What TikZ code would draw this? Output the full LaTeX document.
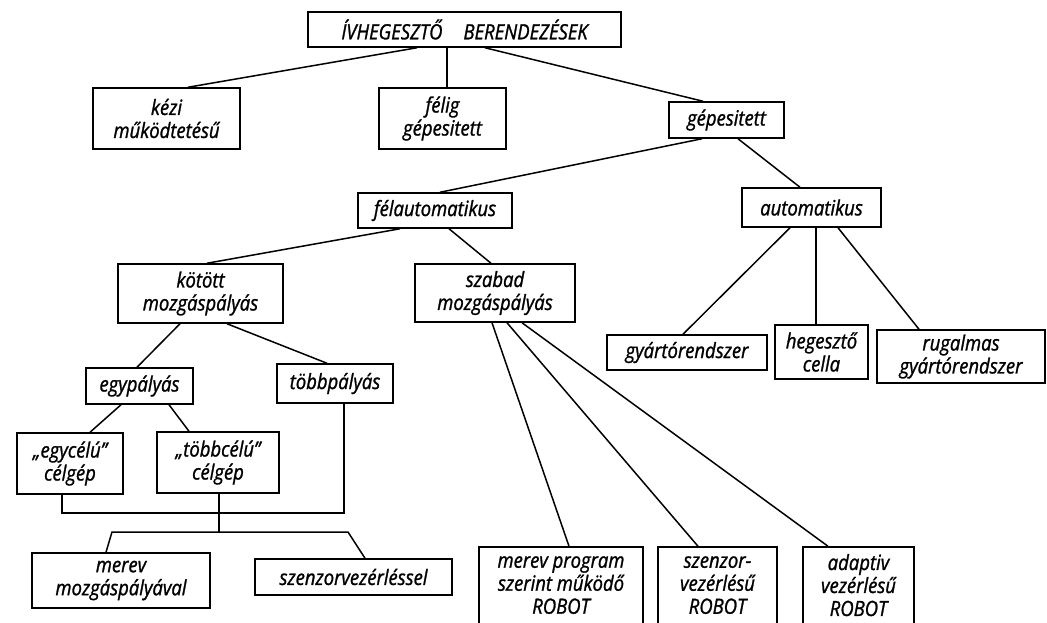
\documentclass[tikz,border=0pt]{standalone}
\usepackage{fontspec}
\newfontfamily\lettering{Open Sans}[FakeStretch=0.88, FakeBold=1.2]
\begin{document}
\begin{tikzpicture}[x=1pt,y=-1pt,
  box/.style={draw, line width=1.5pt, inner sep=0pt, align=center,
    font=\lettering\itshape\fontsize{21}{23}\selectfont},
  sz/.style 2 args={minimum width=#1pt, minimum height=#2pt},
  link/.style={line width=1.5pt}]
\path[use as bounding box, fill=white] (0,0) rectangle (1047,622);
\clip (0,0) rectangle (1047,622);

% top level
\node[box, sz={313}{35}] (root) at (464.5,29.5) {ÍVHEGESZTŐ\quad BERENDEZÉSEK};
\node[box, sz={147}{61}] (kezi) at (166.5,118.5) {kézi\\működtetésű};
\node[box, sz={127}{61}] (felig) at (442.5,118.5) {félig\\gépesitett};
\node[box, sz={115}{36}] (gep) at (726.5,120) {gépesitett};

% second level
\node[box, sz={154}{35}] (felaut) at (435,210.5) {félautomatikus};
\node[box, sz={139}{39}] (aut) at (811.5,207.5) {automatikus};

% automatic branch
\node[box, sz={160}{35}] (gyarto) at (687,352.5) {gyártórendszer};
\node[box, sz={93}{54}] (heg) at (821.5,352) {hegesztő\\cella};
\node[box, sz={168}{53}] (rug) at (961,356.5) {rugalmas\\gyártórendszer};

% semi-automatic branch
\node[box, sz={165}{59}] (kotott) at (200.5,293.5) {kötött\\mozgáspályás};
\node[box, sz={160}{58}] (szabad) at (495,293) {szabad\\mozgáspályás};
\node[box, sz={107}{36}] (egyp) at (139.5,386) {egypályás};
\node[box, sz={116}{39}] (tobbp) at (335,383.5) {többpályás};
\node[box, sz={106}{61}] (egycel) at (70,463.5) {„egycélú”\\célgép};
\node[box, sz={122}{61}] (tobbcel) at (218,462.5) {„többcélú”\\célgép};
\node[box, sz={178}{55}] (merevm) at (121,580.5) {merev\\mozgáspályával};
\node[box, sz={197}{36}] (szenzv) at (353.5,577) {szenzorvezérléssel};

% robots (boxes run past the lower edge; an empty last line lifts the text)
\node[box, sz={164}{99}] (rob1) at (561,596.5) {merev program\\szerint működő\\ROBOT\\\mbox{}};
\node[box, sz={119}{99}] (rob2) at (717.5,596.5) {szenzor-\\vezérlésű\\ROBOT\\\mbox{}};
\node[box, sz={111}{99}] (rob3) at (858.5,596.5) {adaptiv\\vezérlésű\\ROBOT\\\mbox{}};

% connectors
\draw[link] ([xshift=-47.5pt]root.south) -- ([xshift=21.5pt]kezi.north);
\draw[link] ([xshift=-17.5pt]root.south) -- ([xshift=4.5pt]felig.north);
\draw[link] ([xshift=20.5pt]root.south) -- ([xshift=-23.5pt]gep.north);
\draw[link] ([xshift=-24.5pt]gep.south) -- ([xshift=5pt]felaut.north);
\draw[link] ([xshift=11.5pt]gep.south) -- ([xshift=-11.5pt]aut.north);
\draw[link] ([xshift=-35pt]felaut.south) -- ([xshift=6.5pt]kotott.north);
\draw[link] ([xshift=14pt]felaut.south) -- ([xshift=-4pt]szabad.north);
\draw[link] ([xshift=-21.5pt]aut.south) -- ([xshift=-4pt]gyarto.north);
\draw[link] ([xshift=4.5pt]aut.south) -- ([xshift=-5.5pt]heg.north);
\draw[link] ([xshift=26.5pt]aut.south) -- ([xshift=-42pt]rug.north);
\draw[link] ([xshift=-20.5pt]kotott.south) -- ([xshift=-2.5pt]egyp.north);
\draw[link] ([xshift=26.5pt]kotott.south) -- ([xshift=-8pt]tobbp.north);
\draw[link] ([xshift=-18.5pt]egyp.south) -- ([xshift=20pt]egycel.north);
\draw[link] ([xshift=29.5pt]egyp.south) -- ([xshift=-29pt]tobbcel.north);
\draw[link] ([xshift=-3pt]szabad.south) -- ([xshift=8pt]rob1.north);
\draw[link] ([xshift=12pt]szabad.south) -- ([xshift=-19.5pt]rob2.north);
\draw[link] ([xshift=27pt]szabad.south) -- ([xshift=-30.5pt]rob3.north);

% collecting bus below the special-purpose machines
\coordinate (j1) at (219,513);
\coordinate (j2) at (219,532);
\coordinate (jl) at (112,532);
\coordinate (jr) at (348,532);
\draw[link] ([xshift=-8pt]egycel.south) |- (j1) -| ([xshift=9pt]tobbp.south);
\draw[link] ([xshift=1pt]tobbcel.south) -- (j2);
\draw[link] ([xshift=-15pt]merevm.north) -- (jl) -- (jr) -- ([xshift=11.5pt]szenzv.north);
\end{tikzpicture}
\end{document}
